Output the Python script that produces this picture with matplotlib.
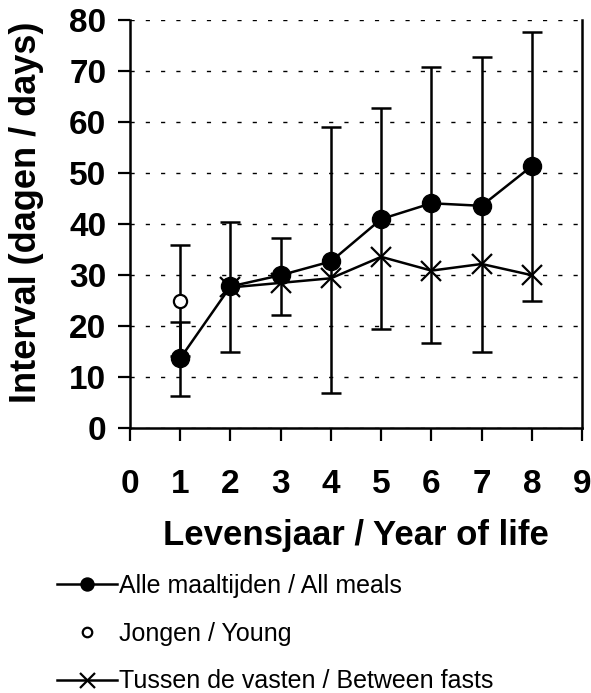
import numpy as np
import matplotlib
matplotlib.use("Agg")
import matplotlib.pyplot as plt

plt.rcParams['font.family'] = ['Liberation Sans', 'DejaVu Sans']

# Data
years = [1, 2, 3, 4, 5, 6, 7, 8]
all_meals = [13.7, 27.8, 30.0, 32.7, 41.0, 44.1, 43.6, 51.4]
all_low = [6.3, 15.0, 22.2, 6.9, 19.5, 16.8, 15.0, 25.0]
all_high = [20.9, 40.5, 37.2, 59.1, 62.7, 70.9, 72.7, 77.7]

young_x = [1]
young = [25.0]
young_low = [14.1]
young_high = [35.9]

fasts_x = [2, 3, 4, 5, 6, 7, 8]
fasts = [27.6, 28.5, 29.4, 33.6, 30.9, 32.2, 30.0]

labels = ["Alle maaltijden / All meals", "Jongen / Young",
          "Tussen de vasten / Between fasts"]

fig = plt.figure(figsize=(5.91, 6.93), dpi=100)
ax = fig.add_axes([0.22, 0.382, 0.765, 0.589])

# error bars
all_err = [np.array(all_meals) - np.array(all_low), np.array(all_high) - np.array(all_meals)]
ax.errorbar(years, all_meals, yerr=all_err, fmt='none', ecolor='k',
            elinewidth=1.8, capsize=7.5, capthick=1.8, zorder=3)
young_err = [np.array(young) - np.array(young_low), np.array(young_high) - np.array(young)]
ax.errorbar(young_x, young, yerr=young_err, fmt='none', ecolor='k',
            elinewidth=1.8, capsize=7.5, capthick=1.8, zorder=3)

l1, = ax.plot(years, all_meals, color='k', lw=1.8, marker='o', ms=13,
              mfc='k', mec='k', zorder=4)
l2, = ax.plot(young_x, young, ls='none', marker='o', ms=9.5, mfc='white',
              mec='k', mew=1.6, zorder=5)
l3, = ax.plot(fasts_x, fasts, color='k', lw=1.8, marker='x', ms=15,
              mew=1.6, zorder=4)

ax.set_xlim(0, 9)
ax.set_ylim(0, 80)
ax.set_xticks(range(0, 10))
ax.set_yticks(range(0, 81, 10))
ax.yaxis.grid(True, color='k', ls=(0, (3, 8)), lw=1.0)
ax.set_axisbelow(True)

ax.spines['top'].set_visible(False)
for s in ['left', 'bottom', 'right']:
    ax.spines[s].set_linewidth(1.8)
ax.tick_params(axis='both', direction='out', length=9, width=1.6,
               labelsize=24)
ax.tick_params(axis='x', pad=20)
ax.tick_params(axis='y', pad=8)
for t in ax.get_xticklabels() + ax.get_yticklabels():
    t.set_fontweight('bold')

ax.set_xlabel("Levensjaar / Year of life", fontsize=25, fontweight='bold',
              labelpad=14)
ax.set_ylabel("Interval (dagen / days)", fontsize=26, fontweight='bold')
ax.yaxis.set_label_coords(-0.19, 0.53)

fig.legend([l1, l2, l3], labels, loc='upper left', bbox_to_anchor=(0.075, 0.19),
           frameon=False, fontsize=18, handlelength=2.4, handletextpad=0.1,
           labelspacing=0.95, markerscale=0.72, borderpad=0)

fig.savefig("out.png", dpi=100)
